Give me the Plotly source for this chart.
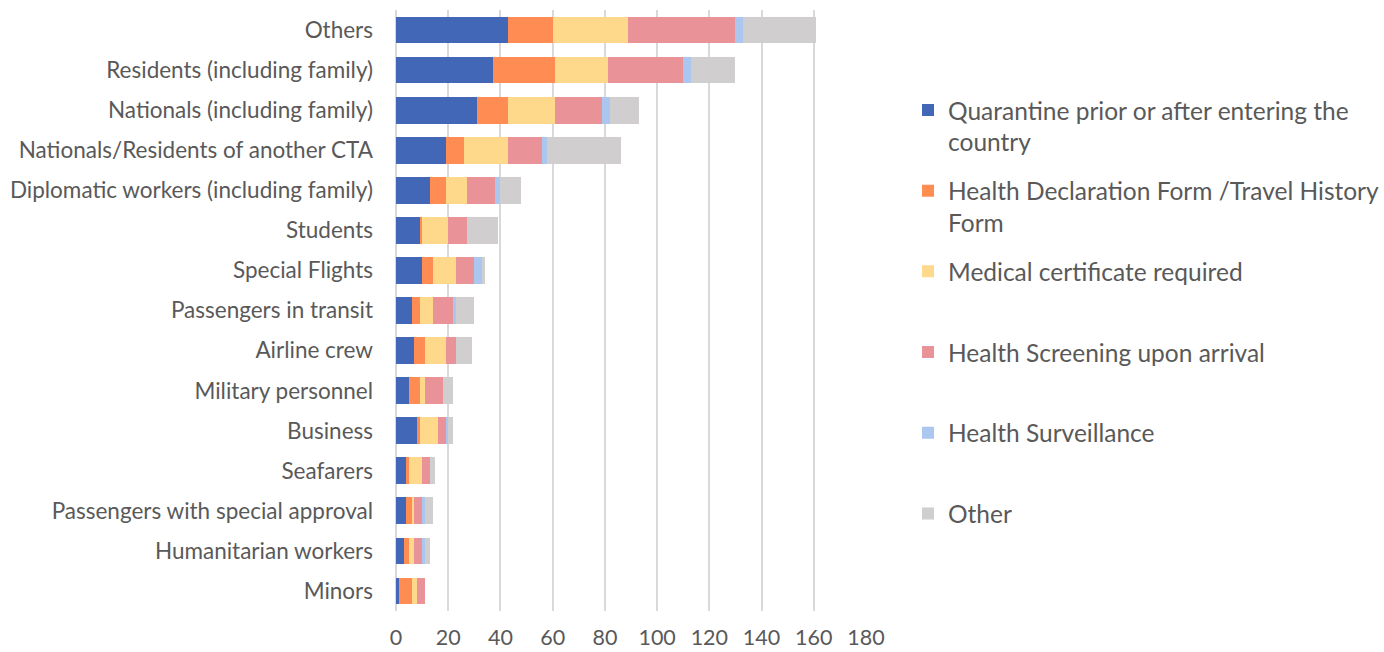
import plotly.graph_objects as go

categories = [
    "Others", "Residents (including family)", "Nationals (including family)",
    "Nationals/Residents of another CTA", "Diplomatic workers (including family)",
    "Students", "Special Flights", "Passengers in transit", "Airline crew",
    "Military personnel", "Business", "Seafarers",
    "Passengers with special approval", "Humanitarian workers", "Minors",
]

quarantine = [43, 37, 31, 19, 13, 9, 10, 6, 7, 5, 8, 4, 4, 3, 1]
health_decl = [17, 24, 12, 7, 6, 1, 4, 3, 4, 4, 1, 1, 2, 2, 5]
medical_cert = [29, 20, 18, 17, 8, 10, 9, 5, 8, 2, 7, 5, 1, 2, 2]
screening = [41, 29, 18, 13, 11, 7, 7, 8, 4, 7, 3, 3, 3, 3, 3]
surveillance = [3, 3, 3, 2, 2, 0, 3, 1, 0, 0, 1, 0, 1, 1, 0]
other = [28, 17, 11, 28, 8, 12, 1, 7, 6, 4, 2, 2, 3, 2, 0]

series_names = [
    "Quarantine prior or after entering the<br>country",
    "Health Declaration Form /Travel History<br>Form",
    "Medical certificate required<br> ",
    "Health Screening upon arrival<br> ",
    "Health Surveillance<br> ",
    "Other<br> ",
]
series_values = [quarantine, health_decl, medical_cert, screening, surveillance, other]
colors = ["#4267b6", "#ff8c52", "#ffd98b", "#e99398", "#abc7ef", "#d0cece"]

FONT = "Lato"
TXT = "#595959"

fig = go.Figure()
for i, (name, vals, col) in enumerate(zip(series_names, series_values, colors)):
    fig.add_trace(go.Bar(
        y=categories, x=vals, name=name, orientation="h",
        marker=dict(color=col, line=dict(width=0)),
        legendgroup=f"g{i}",
    ))

fig.update_layout(
    barmode="stack",
    bargap=0.333,
    width=1384, height=652,
    margin=dict(l=396, r=518, t=10, b=41, autoexpand=False),
    plot_bgcolor="white", paper_bgcolor="white",
    font=dict(family=FONT, size=22, color=TXT),
    legend=dict(
        x=1.0894, xanchor="left", y=0.871, yanchor="top",
        font=dict(family=FONT, size=24.5, color=TXT),
        tracegroupgap=14, valign="top",
        bgcolor="rgba(0,0,0,0)",
    ),
    showlegend=True,
)
fig.update_xaxes(
    range=[0, 180], dtick=20, showgrid=True, gridcolor="#d9d9d9", gridwidth=1.5,
    zeroline=True, zerolinecolor="#d9d9d9", zerolinewidth=1.5,
    showline=False, ticks="", ticklabelstandoff=11, automargin=False,
    tickfont=dict(family=FONT, size=21.5, color=TXT),
)
fig.update_yaxes(
    categoryorder="array", categoryarray=categories, autorange="reversed",
    showgrid=False, zeroline=False, showline=False, ticks="",
    ticklabelstandoff=22, automargin=False,
    tickfont=dict(family=FONT, size=22.5, color=TXT),
)

fig.write_html("out.html")
